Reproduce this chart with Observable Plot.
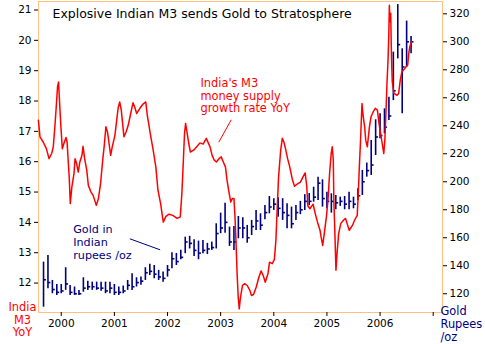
<!DOCTYPE html>
<html><head><meta charset="utf-8">
<script src="https://cdn.jsdelivr.net/npm/d3@7"></script>
<script src="https://cdn.jsdelivr.net/npm/@observablehq/plot@0.6"></script>
<style>
html,body{margin:0;padding:0;background:#fff;}
#chart{width:485px;height:344px;overflow:visible;}
</style></head><body><div id="chart"></div>
<script>
// India M3 money supply growth, % YoY (decimal year, value)
const m3Dates = [1999.57,1999.60,1999.66,1999.72,1999.77,1999.82,1999.85,1999.88,1999.91,1999.93,1999.95,1999.96,1999.99,2000.02,2000.05,2000.09,2000.11,2000.13,2000.15,2000.17,2000.20,2000.24,2000.26,2000.29,2000.32,2000.35,2000.39,2000.41,2000.44,2000.48,2000.51,2000.56,2000.60,2000.66,2000.70,2000.74,2000.78,2000.81,2000.84,2000.87,2000.90,2000.93,2000.96,2001.01,2001.04,2001.07,2001.10,2001.13,2001.18,2001.22,2001.26,2001.30,2001.35,2001.38,2001.42,2001.48,2001.54,2001.59,2001.62,2001.67,2001.73,2001.78,2001.82,2001.87,2001.92,2001.97,2002.03,2002.10,2002.18,2002.24,2002.27,2002.29,2002.32,2002.34,2002.37,2002.40,2002.43,2002.49,2002.55,2002.61,2002.67,2002.73,2002.80,2002.84,2002.88,2002.92,2002.97,2003.01,2003.05,2003.09,2003.12,2003.15,2003.19,2003.22,2003.25,2003.27,2003.29,2003.31,2003.33,2003.35,2003.37,2003.39,2003.41,2003.45,2003.50,2003.55,2003.58,2003.62,2003.67,2003.72,2003.76,2003.80,2003.84,2003.89,2003.92,2003.97,2004.01,2004.04,2004.06,2004.09,2004.13,2004.16,2004.19,2004.22,2004.26,2004.30,2004.35,2004.39,2004.44,2004.50,2004.55,2004.59,2004.62,2004.64,2004.68,2004.74,2004.78,2004.83,2004.87,2004.89,2004.92,2004.95,2004.99,2005.02,2005.05,2005.08,2005.10,2005.12,2005.13,2005.15,2005.17,2005.19,2005.22,2005.26,2005.31,2005.35,2005.38,2005.42,2005.48,2005.52,2005.57,2005.59,2005.61,2005.63,2005.65,2005.66,2005.68,2005.71,2005.73,2005.76,2005.78,2005.80,2005.83,2005.87,2005.91,2005.95,2005.98,2006.01,2006.04,2006.07,2006.09,2006.11,2006.13,2006.15,2006.165,2006.175,2006.185,2006.20,2006.21,2006.22,2006.23,2006.26,2006.32,2006.35,2006.38,2006.41,2006.44,2006.49,2006.52,2006.54,2006.56,2006.59];
const m3Values = [17.37,16.82,16.65,16.43,16.10,16.27,16.49,17.15,17.92,18.47,18.63,18.25,17.26,16.43,16.60,16.80,16.65,16.05,15.50,14.62,15.17,15.61,16.10,15.94,15.66,15.99,16.21,16.51,16.10,15.72,15.22,15.00,14.89,14.56,14.79,15.28,16.05,16.54,17.15,16.98,16.60,16.21,16.49,16.87,17.31,17.76,17.97,17.70,16.82,16.98,17.20,17.53,17.94,17.81,17.59,17.76,17.90,17.97,17.53,16.98,16.38,15.83,15.06,14.62,14.01,14.20,14.27,14.23,14.13,14.18,14.95,15.72,16.93,17.26,16.93,16.60,16.32,16.38,16.49,16.62,16.58,16.77,16.49,16.21,16.05,15.99,16.10,16.16,15.99,15.83,15.39,15.06,14.67,14.79,14.79,14.18,13.30,12.31,11.54,11.15,11.49,11.70,11.92,11.98,11.92,11.76,11.59,11.63,11.87,12.20,12.40,12.25,12.03,12.31,12.69,12.64,12.77,13.41,14.29,15.50,16.38,16.77,16.65,16.43,16.10,15.83,15.41,15.19,15.26,15.33,15.50,15.63,15.20,14.55,14.45,14.60,14.29,13.96,13.74,13.52,13.24,13.63,14.18,14.73,15.61,16.27,16.49,16.05,14.73,13.63,12.42,12.97,13.63,13.96,14.07,14.13,13.96,13.74,13.90,14.07,14.23,14.95,15.83,16.60,17.48,17.92,17.53,17.15,16.71,16.49,16.82,17.15,17.48,17.64,17.76,17.70,17.26,16.93,16.60,16.27,16.71,17.59,18.58,19.35,20.23,21.16,20.61,20.89,19.90,19.13,18.63,18.25,18.19,18.25,18.69,18.96,19.02,19.13,19.19,19.57,19.79,19.95];

// Gold in Indian rupees per oz, monthly bars
const goldMonths = ["1999-09","1999-10","1999-11","1999-12",
 "2000-01","2000-02","2000-03","2000-04","2000-05","2000-06","2000-07","2000-08","2000-09","2000-10","2000-11","2000-12",
 "2001-01","2001-02","2001-03","2001-04","2001-05","2001-06","2001-07","2001-08","2001-09","2001-10","2001-11","2001-12",
 "2002-01","2002-02","2002-03","2002-04","2002-05","2002-06","2002-07","2002-08","2002-09","2002-10","2002-11","2002-12",
 "2003-01","2003-02","2003-03","2003-04","2003-05","2003-06","2003-07","2003-08","2003-09","2003-10","2003-11","2003-12",
 "2004-01","2004-02","2004-03","2004-04","2004-05","2004-06","2004-07","2004-08","2004-09","2004-10","2004-11","2004-12",
 "2005-01","2005-02","2005-03","2005-04","2005-05","2005-06","2005-07","2005-08","2005-09","2005-10","2005-11","2005-12",
 "2006-01","2006-02","2006-03","2006-04","2006-05","2006-06","2006-07","2006-08"];
const goldHigh = [142.6,147.4,129.5,126.6, 126.6,138.6,125.9,124.8,122.4,131.4,129,128.3,128.3,128.3,128.3,128.3,
 126.6,124.8,125.5,129.5,134.3,131.4,131.9,138.6,141,140.2,136.7,135.5,
 140.2,149.3,148.8,151,160.4,161,158.6,157.6,158,156,156.9,170,
 177.6,184.7,167.6,168,175.2,174.3,168.8,172.4,179.5,177.1,183,189.5,
 187.9,188.6,187.9,184.3,181.9,183,186,190.8,191.6,196.1,203.3,201.4,
 192.6,191.4,190.2,189,189.5,192.6,189,195,208.1,213.4,229.5,244.3,
 248.6,252.1,260.4,292.6,326.6,295,314.8,303.8];
const goldLow = [110.4,123.6,120,118.8, 120,122.4,118.8,118.8,118.8,121.1,122.4,122.4,122.4,121.7,120,120,
 118.8,118.8,120,122.4,122.4,124.8,126,129.5,133.1,130.7,129.5,128.3,
 131.9,137.9,140.2,144.3,148.6,152,146.6,144.3,148.6,148,151,152,
 162.9,163.3,153.8,150.9,159.3,159.3,156.1,161.6,165.2,165.2,172.9,177.1,
 179.5,174.7,172.4,166.4,166.4,172.4,176.5,179.5,183,185.4,186.6,181.9,
 180.7,177.6,180,182.4,180,180,180.7,186.6,190.2,203.3,204.5,218.8,
 230.7,234.3,243.8,258,287.8,248.6,281.9,291.4];
const goldClose = [130,128,123,121, 122,127,121,120,120,124,125,125,124,124,122,124,
 121,121,122,126,125,128,129,135,136,134,132,131,
 137,145,143,146,157,156,151,149,151,152,153,163,
 167,171,157,157,167,167,160,168,172,169,178,182,
 184,181,178,176,170,178,180,186,186,189,199,188,
 186,186,185,186,184,186,184,190,200,208,212,232,
 233,239,247,265,298,282,300,300];

const yearTicks = [2000,2001,2002,2003,2004,2005,2006,2007];
const leftTicks = [12,13,14,15,16,17,18,19,20,21];
const rightTicks = [120,140,160,180,200,220,240,260,280,300,320];

const m3Domain = [11.03, 21.28];
const goldDomain = [106.6, 328.8];
const toM3 = g => m3Domain[0] + (g - goldDomain[0]) * (m3Domain[1] - m3Domain[0]) / (goldDomain[1] - goldDomain[0]);
const toGold = m => goldDomain[0] + (m - m3Domain[0]) * (goldDomain[1] - goldDomain[0]) / (m3Domain[1] - m3Domain[0]);
const monthToYear = s => { const [y, m] = s.split("-").map(Number); return y + (m - 1) / 12; };

const m3 = m3Dates.map((d, i) => ({date: d, value: m3Values[i]}));
const gold = goldMonths.map((s, i) => ({date: monthToYear(s), high: goldHigh[i], low: goldLow[i], close: goldClose[i]}));

const RED = "#FF0000", NAVY = "#000080", FRAME = "#FFC080";

const chart = Plot.plot({
  width: 485, height: 344,
  marginLeft: 38, marginRight: 43, marginTop: 1, marginBottom: 32,
  style: {fontFamily: "'DejaVu Sans', Verdana, sans-serif", fontSize: "10.5px", background: "#fff", color: "#000", overflow: "visible"},
  x: {domain: [1999.572, 2007.175]},
  y: {domain: m3Domain},
  marks: [
    Plot.frame({stroke: FRAME, strokeWidth: 1}),
    Plot.axisX(yearTicks, {label: null, tickSize: 4, tickPadding: 3, fontSize: 10.5, stroke: "#000", fill: "#000", tickFormat: d => d === 2007 ? "" : String(d)}),
    Plot.axisY(leftTicks, {label: null, anchor: "left", tickSize: 4, tickPadding: 3, fontSize: 10.5, stroke: "#000", fill: "#000", tickFormat: d => String(d)}),
    Plot.axisY(rightTicks.map(toM3), {label: null, anchor: "right", tickSize: 4, tickPadding: 3, fontSize: 10.5, stroke: "#000", fill: "#000", tickFormat: d => String(Math.round(toGold(d)))}),
    Plot.ruleX(gold, {x: "date", y1: d => toM3(d.low), y2: d => toM3(d.high), stroke: NAVY, strokeWidth: 1.6}),
    Plot.link(gold, {x1: "date", x2: d => d.date + 0.045, y1: d => toM3(d.close), y2: d => toM3(d.close), stroke: NAVY, strokeWidth: 1.6}),
    Plot.line(m3, {x: "date", y: "value", stroke: RED, strokeWidth: 1.5}),
    Plot.text(["Explosive Indian M3 sends Gold to Stratosphere"], {text: d => d, frameAnchor: "top-left", dx: 14, dy: 12.8, textAnchor: "start", lineAnchor: "middle", fontSize: 12.5, fill: "#000"}),
    Plot.text(["India's M3\nmoney supply\ngrowth rate YoY"], {text: d => d, x: 2002.62, y: 18.18, textAnchor: "start", lineAnchor: "middle", lineHeight: 1.12, fontSize: 11.4, fill: RED}),
    Plot.link([0], {x1: 2002.965, y1: 16.643, x2: 2003.199, y2: 17.381, stroke: RED, strokeWidth: 1}),
    Plot.text(["Gold in\nIndian\nrupees /oz"], {text: d => d, x: 2000.225, y: 13.35, textAnchor: "start", lineAnchor: "middle", lineHeight: 1.14, fontSize: 11.2, fill: NAVY}),
    Plot.link([0], {x1: 2001.291, y1: 13.459, x2: 2001.861, y2: 13.096, stroke: NAVY, strokeWidth: 1}),
    Plot.text(["India\nM3\nYoY"], {text: d => d, frameAnchor: "bottom-left", dx: -16, dy: 7, textAnchor: "middle", lineAnchor: "middle", lineHeight: 1.1, fontSize: 11.4, fill: RED}),
    Plot.text(["Gold\nRupees\n/oz"], {text: d => d, frameAnchor: "bottom-right", dx: -2, dy: 11.3, textAnchor: "start", lineAnchor: "middle", lineHeight: 1.14, fontSize: 11.4, fill: NAVY})
  ]
});
document.getElementById("chart").appendChild(chart);
</script>
</body></html>
